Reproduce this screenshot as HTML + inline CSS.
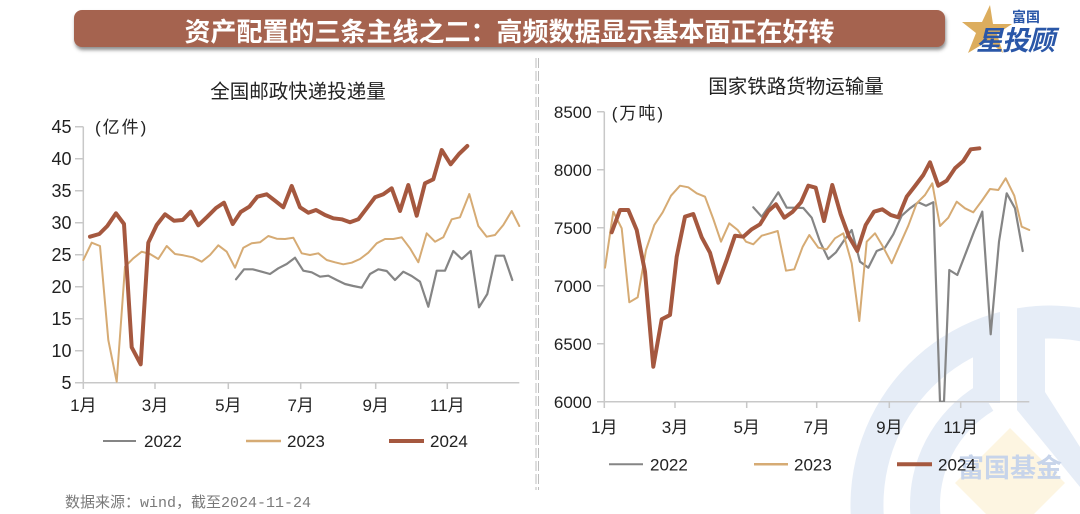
<!DOCTYPE html>
<html><head><meta charset="utf-8"><style>
html,body{margin:0;padding:0;background:#fff;width:1080px;height:514px;overflow:hidden;}
svg{display:block;}
text{font-family:"Liberation Sans","Noto Sans CJK SC",sans-serif;}
.cj{font-family:"Noto Sans CJK SC","Liberation Sans",sans-serif;}
</style></head><body>
<svg width="1080" height="514" viewBox="0 0 1080 514" xmlns="http://www.w3.org/2000/svg">
<defs>
<filter id="sh" x="-5%" y="-30%" width="110%" height="180%">
<feDropShadow dx="1" dy="3" stdDeviation="1.8" flood-color="#444" flood-opacity="0.6"/>
</filter>
<clipPath id="rc"><rect x="600" y="100" width="440" height="302"/></clipPath>
</defs>

<!-- watermark -->
<g>
<path d="M850.7,514 A199.5 199.5 0 0 1 1080,307.8 L1080,341.2 A166.5 166.5 0 0 0 883.7,514 Z" fill="#e6edf7"/>
<rect x="1000" y="290" width="17" height="80" fill="#fff"/>
<rect x="973" y="330" width="27" height="73" fill="#e6edf7"/>
<path d="M977.9,385 A140 140 0 0 0 910.3,514 L940.4,514 A110 110 0 0 1 993.3,410.7 Z" fill="#e6edf7"/>
<polygon points="1017,318 1045,318 1045,392 1080,447 1080,487 1017,410" fill="#e6edf7"/>
<polygon points="1010,428 1065,483 1034,514 986,514 955,483" fill="#fdf5e1"/>
<text x="1010" y="477" text-anchor="middle" class="cj" font-size="26" font-weight="bold" fill="#c7d4ea">富国基金</text>
</g>

<!-- banner -->
<rect x="74" y="10" width="871" height="37" rx="8" fill="#a5644f" filter="url(#sh)"/>
<text x="509.5" y="41" text-anchor="middle" class="cj" font-size="26" font-weight="bold" fill="#fff">资产配置的三条主线之二：高频数据显示基本面正在好转</text>

<!-- logo -->
<polygon points="990,5 993,24 1012,24 997,34 1003,53 988,41 968,53 976,33 962,22 982,22" fill="#dcad5e"/>
<text x="1012" y="22" class="cj" font-size="14" font-weight="bold" fill="#2a57a8">富国</text>
<text x="976" y="50" class="cj" font-size="27" font-weight="bold" font-style="italic" fill="#2a57a8" letter-spacing="-1">星投顾</text>

<!-- divider -->
<line x1="536" y1="58" x2="536" y2="490" stroke="#bdbdbd" stroke-width="1" stroke-dasharray="10,3"/>
<line x1="538.5" y1="58" x2="538.5" y2="490" stroke="#bdbdbd" stroke-width="1" stroke-dasharray="10,3"/>

<!-- LEFT CHART -->
<text x="298" y="98" text-anchor="middle" class="cj" font-size="19.5" fill="#222">全国邮政快递投递量</text>
<text x="95" y="133" font-size="17" fill="#222" letter-spacing="2">(亿件)</text>
<g stroke="#c8c8c8" stroke-width="1.5" fill="none">
<line x1="83.3" y1="126.7" x2="83.3" y2="382.7"/>
<line x1="83.3" y1="382.7" x2="519.3" y2="382.7"/>
<path d="M75,126.7H83.3M75,158.7H83.3M75,190.7H83.3M75,222.7H83.3M75,254.7H83.3M75,286.7H83.3M75,318.7H83.3M75,350.7H83.3M75,382.7H83.3"/>
<path d="M83.3,382.7V389M155,382.7V389M228.3,382.7V389M300.7,382.7V389M375.7,382.7V389M447.3,382.7V389"/>
</g>
<g font-size="18" fill="#222" text-anchor="end">
<text x="71.5" y="133">45</text><text x="71.5" y="165">40</text><text x="71.5" y="197">35</text>
<text x="71.5" y="229">30</text><text x="71.5" y="261">25</text><text x="71.5" y="293">20</text>
<text x="71.5" y="325">15</text><text x="71.5" y="357">10</text><text x="71.5" y="389">5</text>
</g>
<g font-size="17" fill="#222" text-anchor="middle">
<text x="83.3" y="411">1月</text><text x="155" y="411">3月</text><text x="228.3" y="411">5月</text>
<text x="300.7" y="411">7月</text><text x="375.7" y="411">9月</text><text x="447.3" y="411">11月</text>
</g>
<g fill="none" stroke-linejoin="round" stroke-linecap="round">
<polyline stroke="#858585" stroke-width="2.2" points="236,279.3 244,269.3 252.7,269.3 261.7,271.7 270,274 278.3,268.3 286.7,264 295,257.7 303.3,270.7 311.7,272.3 320,276.7 328.3,275.7 336.7,280 345,284 353.3,286 361.7,287.7 370,274 378.3,269.3 386.7,271 395,280 403.3,271.7 411.7,276 420,281.7 428.3,306.7 436.7,270.7 445,270.7 453.3,251 461.7,259 470.7,251 479,307.3 487.3,294 495.7,255.7 504,255.7 512.3,280"/>
<polyline stroke="#d6ab74" stroke-width="2" points="83.3,260 91.7,242.7 100,246 108.3,340 116.7,381.7 125,266.7 133.3,258.3 141.7,251.7 150,254 158.3,259 166.7,246 175,254 183.3,255.3 192.7,257.3 201.7,261.7 210,255 218.3,245.3 226.7,251.7 235,267.7 243.3,247.7 251.7,243.3 260,242.3 268.3,236 276.7,238.7 285,239 293.3,237.7 301.7,253.3 310,255 318.3,253.3 326.7,260 335,262.3 343.3,264.3 351.7,262.7 360,259 368.3,252.7 376.7,243.3 385,239 393.3,239 401.7,237.3 410,248.3 418.3,262.3 426.7,233.3 435,241.7 443.3,237.3 451.7,219.3 460,217.3 469.3,194 478.3,226 486.7,236.7 495,235 503.3,225 511.7,211 519.3,226"/>
<polyline stroke="#a5583f" stroke-width="4" points="90,236.7 99.3,234 107.3,226 116,213.3 124,224 131.7,347.3 140.7,364.3 148.3,242.7 156.7,225 165,214.3 174,220.7 182.7,220 190.7,211.7 198.3,225.3 207.3,216.7 216,208 224,202.7 232.7,224 240.7,212 249.3,206.7 257.3,196.7 266.7,194.3 275,200.7 283.3,207.3 291.7,186 300,207.3 308.3,212.7 316,210 325,215 333.3,218.3 341.7,219.3 350,222.3 358.3,219.3 366.7,208.3 375,197.3 383.3,194.3 391.7,188.3 400,211 408.3,185 416.7,215.7 425,183.3 433.3,179.3 441.7,150 450.7,164.3 459,154 467.3,146"/>
</g>
<g font-size="17" fill="#222">
<line x1="103" y1="441" x2="136" y2="441" stroke="#858585" stroke-width="2"/>
<text x="144" y="447">2022</text>
<line x1="246" y1="441" x2="281" y2="441" stroke="#d6ab74" stroke-width="2.5"/>
<text x="287" y="447">2023</text>
<line x1="389" y1="441" x2="424" y2="441" stroke="#a5583f" stroke-width="4"/>
<text x="430" y="447">2024</text>
</g>

<!-- RIGHT CHART -->
<text x="796" y="93" text-anchor="middle" class="cj" font-size="19.5" fill="#222">国家铁路货物运输量</text>
<text x="611.7" y="119" font-size="17" fill="#222" letter-spacing="2">(万吨)</text>
<g stroke="#c8c8c8" stroke-width="1.5" fill="none">
<line x1="604.3" y1="111.7" x2="604.3" y2="401.7"/>
<line x1="604.3" y1="401.7" x2="1029.3" y2="401.7"/>
<path d="M597,111.7H604.3M597,169.7H604.3M597,227.7H604.3M597,285.7H604.3M597,343.7H604.3M597,401.7H604.3"/>
<path d="M604.3,401.7V408M675,401.7V408M746.7,401.7V408M816.7,401.7V408M889.3,401.7V408M960.7,401.7V408"/>
</g>
<g font-size="17" fill="#222" text-anchor="end">
<text x="591.7" y="118">8500</text><text x="591.7" y="176">8000</text><text x="591.7" y="234">7500</text>
<text x="591.7" y="292">7000</text><text x="591.7" y="350">6500</text><text x="591.7" y="408">6000</text>
</g>
<g font-size="17" fill="#222" text-anchor="middle">
<text x="604.3" y="433">1月</text><text x="675" y="433">3月</text><text x="746.7" y="433">5月</text>
<text x="816.7" y="433">7月</text><text x="889.3" y="433">9月</text><text x="960.7" y="433">11月</text>
</g>
<g fill="none" stroke-linejoin="round" stroke-linecap="round" clip-path="url(#rc)">
<polyline stroke="#858585" stroke-width="2.2" points="753.3,207.3 761.7,216.7 770,205 778.3,192.3 786.7,207.7 795,207.7 803.3,208 811.7,217.7 820,241.7 828.3,259 836,252.3 844.3,240 851.7,230 860,261.7 868.3,267.7 876.7,251 885,247.7 893.3,234.3 901.7,215.7 910,208.3 918.3,202.3 926,205.7 933.3,202.3 940,401.7 944,401.7 949.3,270 957.3,275 965.7,253.3 974,231.7 982.3,211.7 990.7,334.3 999,241.7 1006.7,193.3 1015,208.3 1022.7,251"/>
<polyline stroke="#d6ab74" stroke-width="2" points="605,267.7 613.3,211.7 621.7,228.3 629.3,302.3 637.7,297.3 646,250 654.3,225 662.7,212.3 671,195.7 680,185.7 688.3,187.3 696.7,193.3 705,196.7 713.3,219 721,241.7 729.3,223.3 737.7,230 746,241.7 753.3,244.3 761.7,235.7 770,233.3 777.7,231 786,270.7 794.3,269.3 802.7,246.7 809.3,235 818.3,247.7 826.7,249.3 835,238.3 843.3,233.3 851.7,263.3 859.3,321 866.7,241.7 875,233.3 883.3,247.3 891.7,263.3 900,244.3 908.3,225.7 916.7,203.3 925,195 932.3,183.3 940,226 948.3,217.7 956.7,201.7 965,208.3 973.3,212.3 981.7,201 990,189 998.3,190 1005.7,178.3 1014.3,195.7 1021.7,226.7 1029.3,230"/>
<polyline stroke="#a5583f" stroke-width="4" points="611.7,232.3 620,210 628.3,210 636.7,230 645,271.7 653.3,366.7 661.7,319.3 670,315 676.7,256.7 685,216.7 693.3,214 701.7,237.3 710,252.7 718.3,282.7 726.7,260 735,235.7 743.3,236.7 751.7,229.3 760,224.3 768.3,211 776,204.3 784.3,217.7 792.7,211.7 801,202.3 808.3,185.7 815.7,187.7 824,221 832.3,185 840.7,214.3 849,236.7 857.3,251 865.7,225 874,211.7 882.3,209.3 890.7,215 898.3,217.3 906.7,196.7 915,186 923.3,175 930,162.3 938.3,185.7 946.7,180.7 955,168.3 963.3,161 970.7,149.3 979.3,148.3"/>
</g>
<g font-size="17" fill="#222">
<line x1="609" y1="464.3" x2="643" y2="464.3" stroke="#858585" stroke-width="2"/>
<text x="650" y="470.3">2022</text>
<line x1="754" y1="464.3" x2="788" y2="464.3" stroke="#d6ab74" stroke-width="2.5"/>
<text x="794" y="470.3">2023</text>
<line x1="897" y1="464.3" x2="932" y2="464.3" stroke="#a5583f" stroke-width="4"/>
<text x="938" y="470.3">2024</text>
</g>

<!-- footer -->
<text x="65" y="507" font-size="15" fill="#7a7a7a" style="font-family:'Liberation Mono','Noto Sans CJK SC',monospace">数据来源：wind，截至2024-11-24</text>
</svg>
</body></html>
